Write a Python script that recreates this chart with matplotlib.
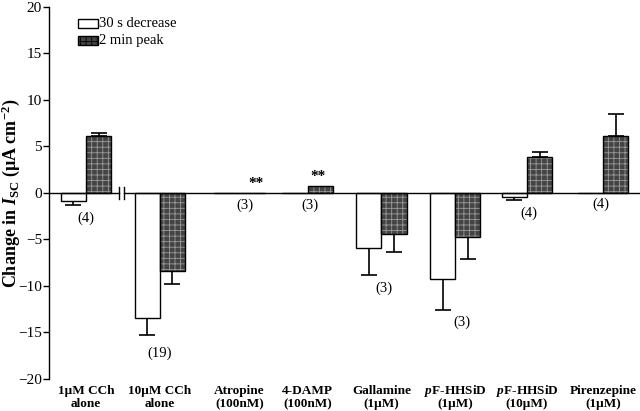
import matplotlib
matplotlib.use("Agg")
import matplotlib.pyplot as plt
import matplotlib.transforms as mtransforms
import numpy as np

plt.rcParams['font.family'] = 'Liberation Serif'
plt.rcParams['mathtext.fontset'] = 'custom'
plt.rcParams['mathtext.rm'] = 'Liberation Serif:bold'
plt.rcParams['mathtext.it'] = 'Liberation Serif:bold:italic'
plt.rcParams['mathtext.bf'] = 'Liberation Serif:bold'
plt.rcParams['hatch.linewidth'] = 0.6

# data
cat_line1 = ['1\u00b5M CCh', '10\u00b5M CCh', 'Atropine', '4-DAMP', 'Gallamine',
             '$\\mathit{p}$F-HHSiD', '$\\mathit{p}$F-HHSiD', 'Pirenzepine']
cat_line2 = ['alone', 'alone', '(100nM)', '(100nM)', '(1\u00b5M)', '(1\u00b5M)',
             '(10\u00b5M)', '(1\u00b5M)']
group_pos = [0, 1, 2.08, 3, 4, 5, 5.97, 7]
decrease_30s = [-0.85, -13.5, 0, 0, -5.95, -9.25, -0.4, 0]
decrease_err = [0.45, 1.8, 0, 0, 2.85, 3.35, 0.35, 0]
peak_2min = [6.1, -8.4, 0, 0.7, -4.45, -4.7, 3.9, 6.1]
peak_err = [0.4, 1.4, 0, 0, 1.95, 2.4, 0.5, 2.35]
n_labels = ['(4)', '(19)', '(3)', '(3)', '(3)', '(3)', '(4)', '(4)']
n_x = [0, 1.0, 2.15, 3.03, 4.04, 5.09, 6.0, 6.97]
n_y = [-2.7, -17.2, -1.3, -1.3, -10.2, -13.9, -2.2, -1.2]
sig_x = [2.30, 3.14]
sig_y = [1.0, 1.8]

w = 0.34
x = np.array(group_pos)

fig = plt.figure(figsize=(6.4, 4.11), dpi=100)
ax = fig.add_axes([0.0766, 0.078, 0.9234, 0.905])


def draw_err(xs, vals, errs):
    # error bar only on the side away from zero
    vals = np.array(vals)
    errs = np.array(errs)
    m = errs > 0
    lo = np.where(vals < 0, errs, 0)
    hi = np.where(vals > 0, errs, 0)
    ax.errorbar(xs[m], vals[m], yerr=[lo[m], hi[m]], fmt='none', ecolor='black',
                elinewidth=1.2, capsize=6, capthick=1.2, zorder=1)


# 30 s decrease: white bars
ax.bar(x - w / 2, decrease_30s, w, color='white', edgecolor='black', linewidth=1.0, zorder=2)
draw_err(x - w / 2, decrease_30s, decrease_err)

# 2 min peak: dark textured bars
ax.bar(x + w / 2, peak_2min, w, color='#444444', edgecolor='#9a9a9a', hatch='+++',
       linewidth=0, zorder=2)
ax.bar(x + w / 2, peak_2min, w, fill=False, edgecolor='black', linewidth=1.0, zorder=3)
draw_err(x + w / 2, peak_2min, peak_err)

# zero line with axis break
brk0, brk1 = 0.446, 0.514
ax.plot([-0.5, brk0], [0, 0], color='black', lw=1.0, zorder=4)
ax.plot([brk1, 7.5], [0, 0], color='black', lw=1.0, zorder=4)
for bx in (brk0, brk1):
    ax.plot([bx, bx], [-0.65, 0.65], color='black', lw=1.0, zorder=4)

for lab, nx, ny in zip(n_labels, n_x, n_y):
    ax.text(nx, ny, lab, ha='center', va='center', fontsize=10.5)
for sx, sy in zip(sig_x, sig_y):
    ax.text(sx, sy, '**', ha='center', va='center', fontsize=11, fontweight='bold')

ax.set_xlim(-0.5, 7.5)
ax.set_ylim(-20, 20)
ax.set_yticks(np.arange(-20, 21, 5))
ax.tick_params(axis='y', labelsize=11, length=4, width=1.0, pad=1)
ax.set_xticks([])
for s in ('top', 'right', 'bottom'):
    ax.spines[s].set_visible(False)
ax.spines['left'].set_linewidth(1.0)
ax.set_ylabel('Change in $\\mathit{I}_{\\mathrm{SC}}$ (\u00b5A cm$^{-2}$)',
              fontsize=13, fontweight='bold')
ax.yaxis.set_label_coords(-0.046, 0.5)

# category labels, two lines under the axis
trans = mtransforms.blended_transform_factory(ax.transData, ax.transAxes)
for gx, l1, l2 in zip(group_pos, cat_line1, cat_line2):
    ax.text(gx, -0.040, l1, transform=trans, ha='center', va='baseline',
            fontsize=9.5, fontweight='bold')
    ax.text(gx, -0.075, l2, transform=trans, ha='center', va='baseline',
            fontsize=9.5, fontweight='bold')

# legend drawn as boxes in axes coords
ax.add_patch(plt.Rectangle((0.049, 0.944), 0.034, 0.024, transform=ax.transAxes,
                           facecolor='white', edgecolor='black', lw=1.0))
ax.add_patch(plt.Rectangle((0.049, 0.898), 0.034, 0.024, transform=ax.transAxes,
                           facecolor='#444444', edgecolor='black', hatch='+++', lw=1.0))
ax.text(0.085, 0.956, '30 s decrease', transform=ax.transAxes, va='center', fontsize=10.5)
ax.text(0.085, 0.910, '2 min peak', transform=ax.transAxes, va='center', fontsize=10.5)

fig.savefig('out.png', dpi=100)
